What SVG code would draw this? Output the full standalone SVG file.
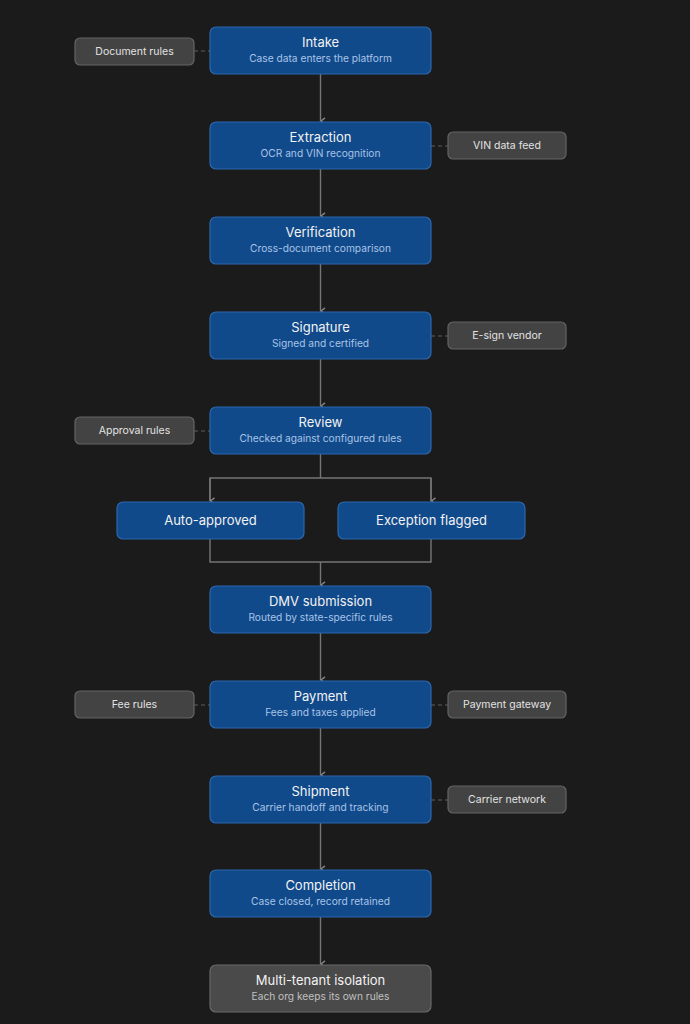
<svg xmlns="http://www.w3.org/2000/svg" width="690" height="1024" viewBox="0 0 690 1024">
<defs>
<marker id="arr" viewBox="0 0 10 10" refX="5" refY="8.5" markerWidth="9" markerHeight="9" orient="auto-start-reverse" markerUnits="userSpaceOnUse">
<path d="M1.5 3.5 L5 8 L8.5 3.5" fill="none" stroke="#858585" stroke-width="1.5"/>
</marker>
<style>
.node{fill:#114a8b;stroke:#2c67ad;stroke-width:1.2}
.gray{fill:#4a4a4a;stroke:#686868;stroke-width:1.2}
.side{fill:#434343;stroke:#646464;stroke-width:1.2}
.t{font-family:"Inter","Noto Sans",sans-serif;font-size:13px;fill:#f2f2f2;text-anchor:middle}
.s{font-family:"Inter","Noto Sans",sans-serif;font-size:10.2px;fill:#a9c4e6;text-anchor:middle}
.gs{font-family:"Inter","Noto Sans",sans-serif;font-size:10.2px;fill:#c0c0c0;text-anchor:middle}
.st{font-family:"Inter","Noto Sans",sans-serif;font-size:10.5px;fill:#e2e2e2;text-anchor:middle}
.bt{font-family:"Inter","Noto Sans",sans-serif;font-size:13px;fill:#f2f2f2;text-anchor:middle}
.c{fill:none;stroke:#767676;stroke-width:1.4}
.d{fill:none;stroke:#5e5e5e;stroke-width:1.2;stroke-dasharray:4 3}
</style>
</defs>
<rect width="690" height="1024" fill="#1b1b1b"/>
<g id="connectors">
<path class="c" d="M320.5 74 V121" marker-end="url(#arr)"/>
<path class="c" d="M320.5 169 V216" marker-end="url(#arr)"/>
<path class="c" d="M320.5 264 V311" marker-end="url(#arr)"/>
<path class="c" d="M320.5 359 V406" marker-end="url(#arr)"/>
<path class="c" d="M320.5 454 V478 M210 501 V478 H431 V501"/>
<path class="c" d="M210 478 V501" marker-end="url(#arr)"/>
<path class="c" d="M431 478 V501" marker-end="url(#arr)"/>
<path class="c" d="M210 539 V562 H431 V539"/>
<path class="c" d="M320.5 562 V585" marker-end="url(#arr)"/>
<path class="c" d="M320.5 633 V680" marker-end="url(#arr)"/>
<path class="c" d="M320.5 728 V775" marker-end="url(#arr)"/>
<path class="c" d="M320.5 823 V869" marker-end="url(#arr)"/>
<path class="c" d="M320.5 917 V964" marker-end="url(#arr)"/>
<path class="d" d="M194 51 H210"/>
<path class="d" d="M431 146 H448"/>
<path class="d" d="M431 336 H448"/>
<path class="d" d="M194 431 H210"/>
<path class="d" d="M194 705 H210"/>
<path class="d" d="M431 705 H448"/>
<path class="d" d="M431 800 H448"/>
</g>
<g id="intake"><rect class="node" x="210" y="27" width="221" height="47" rx="6"/><text class="t" x="320.5" y="47">Intake</text><text class="s" x="320.5" y="62">Case data enters the platform</text></g>
<g id="extraction"><rect class="node" x="210" y="122" width="221" height="47" rx="6"/><text class="t" x="320.5" y="142">Extraction</text><text class="s" x="320.5" y="157">OCR and VIN recognition</text></g>
<g id="verification"><rect class="node" x="210" y="217" width="221" height="47" rx="6"/><text class="t" x="320.5" y="237">Verification</text><text class="s" x="320.5" y="252">Cross-document comparison</text></g>
<g id="signature"><rect class="node" x="210" y="312" width="221" height="47" rx="6"/><text class="t" x="320.5" y="332">Signature</text><text class="s" x="320.5" y="347">Signed and certified</text></g>
<g id="review"><rect class="node" x="210" y="407" width="221" height="47" rx="6"/><text class="t" x="320.5" y="427">Review</text><text class="s" x="320.5" y="442">Checked against configured rules</text></g>
<g id="auto-approved"><rect class="node" x="117" y="502" width="187" height="37" rx="6"/><text class="bt" x="210.5" y="525">Auto-approved</text></g>
<g id="exception-flagged"><rect class="node" x="338" y="502" width="187" height="37" rx="6"/><text class="bt" x="431.5" y="525">Exception flagged</text></g>
<g id="dmv"><rect class="node" x="210" y="586" width="221" height="47" rx="6"/><text class="t" x="320.5" y="606">DMV submission</text><text class="s" x="320.5" y="621">Routed by state-specific rules</text></g>
<g id="payment"><rect class="node" x="210" y="681" width="221" height="47" rx="6"/><text class="t" x="320.5" y="701">Payment</text><text class="s" x="320.5" y="716">Fees and taxes applied</text></g>
<g id="shipment"><rect class="node" x="210" y="776" width="221" height="47" rx="6"/><text class="t" x="320.5" y="796">Shipment</text><text class="s" x="320.5" y="811">Carrier handoff and tracking</text></g>
<g id="completion"><rect class="node" x="210" y="870" width="221" height="47" rx="6"/><text class="t" x="320.5" y="890">Completion</text><text class="s" x="320.5" y="905">Case closed, record retained</text></g>
<g id="multi-tenant"><rect class="gray" x="210" y="965" width="221" height="47" rx="6"/><text class="t" x="320.5" y="985">Multi-tenant isolation</text><text class="gs" x="320.5" y="1000">Each org keeps its own rules</text></g>
<g id="document-rules"><rect class="side" x="75" y="38" width="119" height="27" rx="5"/><text class="st" x="134.5" y="55">Document rules</text></g>
<g id="vin-data-feed"><rect class="side" x="448" y="132" width="118" height="27" rx="5"/><text class="st" x="507" y="149">VIN data feed</text></g>
<g id="e-sign-vendor"><rect class="side" x="448" y="322" width="118" height="27" rx="5"/><text class="st" x="507" y="339">E-sign vendor</text></g>
<g id="approval-rules"><rect class="side" x="75" y="417" width="119" height="27" rx="5"/><text class="st" x="134.5" y="434">Approval rules</text></g>
<g id="fee-rules"><rect class="side" x="75" y="691" width="119" height="27" rx="5"/><text class="st" x="134.5" y="708">Fee rules</text></g>
<g id="payment-gateway"><rect class="side" x="448" y="691" width="118" height="27" rx="5"/><text class="st" x="507" y="708">Payment gateway</text></g>
<g id="carrier-network"><rect class="side" x="448" y="786" width="118" height="27" rx="5"/><text class="st" x="507" y="803">Carrier network</text></g>
</svg>
